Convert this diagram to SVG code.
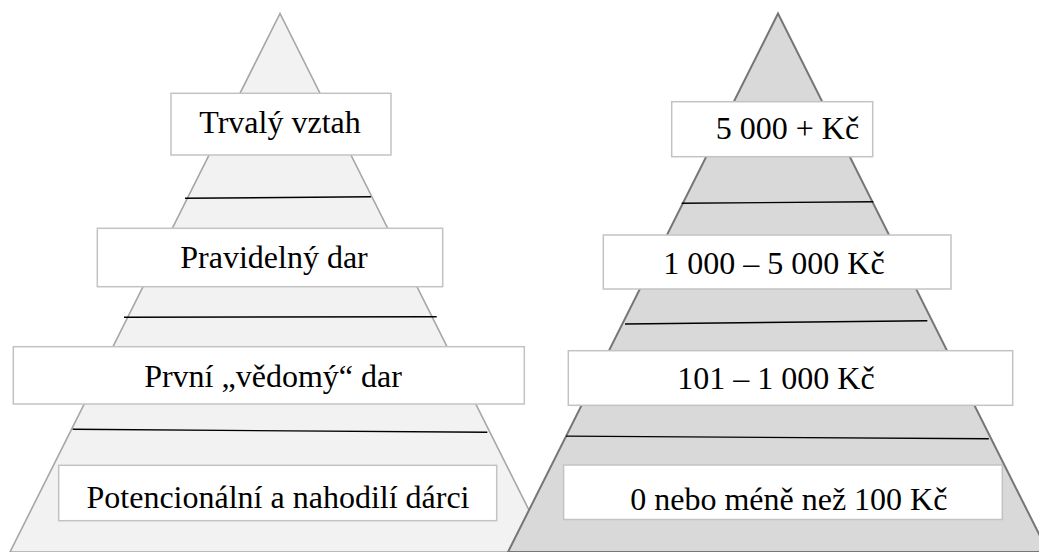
<svg xmlns="http://www.w3.org/2000/svg" width="1039" height="552" viewBox="0 0 1039 552">
<style>
.box{fill:#ffffff;stroke:#c3c3c3;stroke-width:1.5}
.lbl{font-family:"Liberation Serif","Times New Roman",serif;font-size:32px;fill:#000;text-anchor:middle}
.div{stroke:#000;stroke-width:1.4;fill:none}
</style>
<rect x="0" y="0" width="1039" height="552" fill="#ffffff"/>
<g id="pyramid-left">
<polygon points="280,13.5 10,552 550,552" fill="#f2f2f2" stroke="#a6a6a6" stroke-width="1.6"/>
</g>
<g id="dividers-left">
<line class="div" x1="185" y1="198.3" x2="371" y2="196.7"/>
<line class="div" x1="124" y1="317.3" x2="436.7" y2="316.7"/>
<line class="div" x1="72.7" y1="429.3" x2="487.3" y2="432.3"/>
</g>
<g id="left-1">
<rect class="box" x="171" y="93.3" width="220" height="61.7"/>
<text class="lbl" x="280" y="133">Trvalý vztah</text>
</g>
<g id="left-2">
<rect class="box" x="97.3" y="228.3" width="345.4" height="58.4"/>
<text class="lbl" x="274" y="268.3">Pravidelný dar</text>
</g>
<g id="left-3">
<rect class="box" x="13.3" y="346.7" width="511" height="57.3"/>
<text class="lbl" x="273" y="386.7">První „vědomý“ dar</text>
</g>
<g id="left-4">
<rect class="box" x="58.7" y="465.3" width="438" height="55.4"/>
<text class="lbl" x="278" y="508.3">Potencionální a nahodilí dárci</text>
</g>
<g id="pyramid-right">
<polygon points="778,13.5 508,552 1048,552" fill="#d9d9d9" stroke="#767676" stroke-width="2"/>
</g>
<g id="dividers-right">
<line class="div" x1="681.7" y1="203.3" x2="873.3" y2="201.7"/>
<line class="div" x1="625" y1="324" x2="927.3" y2="320.7"/>
<line class="div" x1="566" y1="436.1" x2="988.8" y2="438.8"/>
</g>
<g id="right-1">
<rect class="box" x="671.7" y="101.7" width="201" height="55"/>
<text class="lbl" x="787.5" y="139.3">5 000 + Kč</text>
</g>
<g id="right-2">
<rect class="box" x="603.3" y="235" width="347.7" height="54"/>
<text class="lbl" x="774" y="274.3">1 000 – 5 000 Kč</text>
</g>
<g id="right-3">
<rect class="box" x="568.3" y="350.7" width="444.4" height="54.6"/>
<text class="lbl" x="776" y="389.3">101 – 1 000 Kč</text>
</g>
<g id="right-4">
<rect class="box" x="563.6" y="465" width="438.7" height="54.5"/>
<text class="lbl" x="788.8" y="510">0 nebo méně než 100 Kč</text>
</g>
</svg>
